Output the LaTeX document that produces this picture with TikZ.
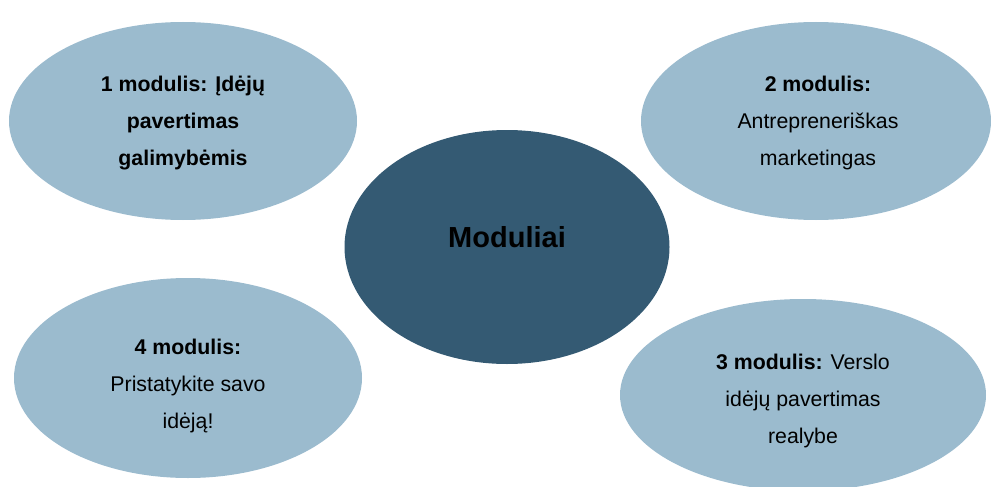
\documentclass[tikz,border=0pt]{standalone}
\usepackage{fontspec}
\setmainfont{Liberation Sans}
\usetikzlibrary{shapes.geometric}
\definecolor{lightblue}{RGB}{155,187,206}
\definecolor{darkblue}{RGB}{52,90,115}
\tikzset{
  modell/.style={ellipse, fill=lightblue, draw=none, inner sep=0pt},
  centell/.style={ellipse, fill=darkblue, draw=none, inner sep=0pt},
  modtext/.style={align=center, inner sep=0pt, font=\fontsize{21.3}{37}\selectfont},
}
\begin{document}
\begin{tikzpicture}[x=1pt,y=-1pt]
\useasboundingbox (0,0) rectangle (991,487);
\node[modell, minimum width=348pt, minimum height=198pt] (e1) at (183,121) {};
\node[modell, minimum width=350pt, minimum height=198pt] (e2) at (816,121) {};
\node[centell, minimum width=325pt, minimum height=234pt] (e0) at (507,247) {};
\node[modell, minimum width=348pt, minimum height=200pt] (e4) at (188,378) {};
\node[modell, minimum width=366pt, minimum height=192pt] (e3) at (803,395) {};
\node[inner sep=0pt, font=\fontsize{29}{35}\selectfont\bfseries] (t0) at (507,237) {Moduliai};
\node[modtext] (t1) at (183,123) {\textbf{1 modulis: Įdėjų}\\\textbf{pavertimas}\\\textbf{galimybėmis}};
\node[modtext] (t2) at (818,123) {\textbf{2 modulis:}\\Antrepreneriškas\\marketingas};
\node[modtext] (t4) at (188,386) {\textbf{4 modulis:}\\Pristatykite savo\\idėją!};
\node[modtext] (t3) at (803,401) {\textbf{3 modulis:} Verslo\\idėjų pavertimas\\realybe};
\end{tikzpicture}
\end{document}
